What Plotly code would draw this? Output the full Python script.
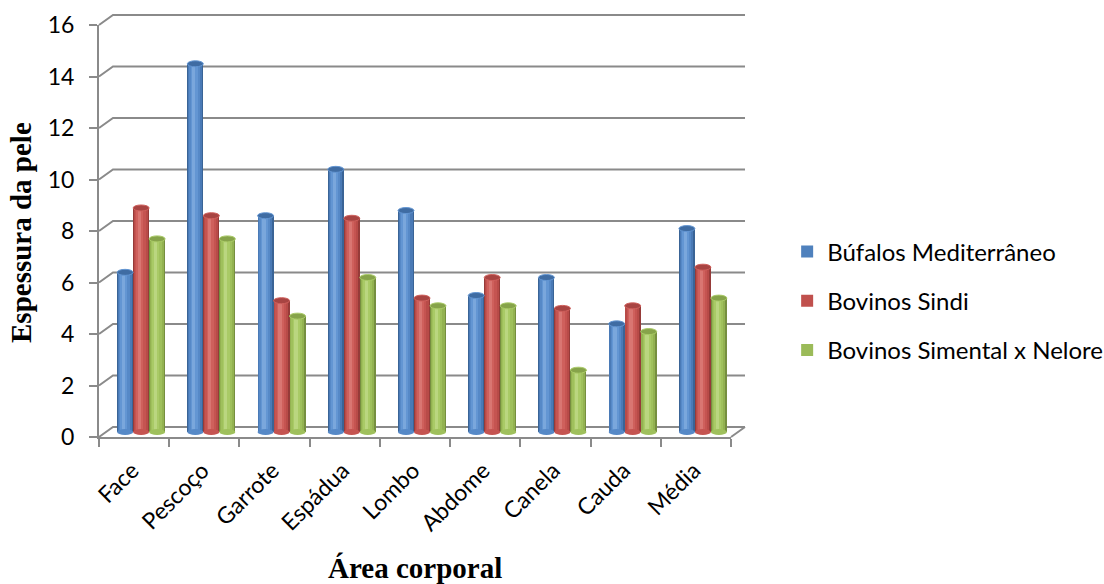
import plotly.graph_objects as go

# --- data -------------------------------------------------------------
categorias = ["Face", "Pescoço", "Garrote", "Espádua", "Lombo",
              "Abdome", "Canela", "Cauda", "Média"]
bufalos_mediterraneo = [6.2, 14.3, 8.4, 10.2, 8.6, 5.3, 6.0, 4.2, 7.9]
bovinos_sindi = [8.7, 8.4, 5.1, 8.3, 5.2, 6.0, 4.8, 4.9, 6.4]
bovinos_simental_nelore = [7.5, 7.5, 4.5, 6.0, 4.9, 4.9, 2.4, 3.9, 5.2]
series_nomes = ["Búfalos Mediterrâneo", "Bovinos Sindi", "Bovinos Simental x Nelore"]
y_ticks = [0, 2, 4, 6, 8, 10, 12, 14, 16]

# --- layout geometry (pixels) -----------------------------------------
W, H = 1104, 584
DX, DY = 7, 5            # half depth of the pseudo-3D box
MID = dict(x0=106, x1=738, yb=432, yt=20)   # plane where the columns stand
PLOT_W = MID["x1"] - MID["x0"]
PLOT_H = MID["yb"] - MID["yt"]
PAD = 12                 # room around the column plane so the box edges are not clipped
Y_MAX = 16
N = len(categorias)


def xdom(a, b):
    return [a / W, b / W]


def ydom(bottom, top):
    return [(H - bottom) / H, (H - top) / H]


x_per_px = N / PLOT_W
y_per_px = Y_MAX / PLOT_H

# shading layers for the cylinders: (width fraction, centre shift) + colours
palettes = [
    ["#3A6496", "#4A7AB6", "#5689C7", "#6396D3", "#7AA7DC"],
    ["#963B39", "#B84B48", "#C55451", "#CF605C", "#D97672"],
    ["#768F40", "#93B251", "#9FC05C", "#A9CA66", "#BAD680"],
]
legend_colors = ["#4F81BD", "#C0504D", "#9BBB59"]
tops = ["#3F6CA3", "#A84442", "#86A34A"]
layers = [(1.00, 0.00), (0.86, -0.02), (0.66, -0.05), (0.44, -0.08), (0.20, -0.10)]

BAR_W = 16 * x_per_px

fig = go.Figure()

valores = [bufalos_mediterraneo, bovinos_sindi, bovinos_simental_nelore]
for i, (nome, vals, pal) in enumerate(zip(series_nomes, valores, palettes)):
    centre = (i - 1) * BAR_W
    for j, (frac, shift) in enumerate(layers):
        fig.add_trace(go.Bar(
            x=list(range(N)), y=vals,
            width=frac * BAR_W,
            offset=centre + (shift - frac / 2) * BAR_W,
            marker=dict(color=pal[j], line_width=0),
            name=nome, legendgroup=nome, showlegend=False,
            hoverinfo="skip",
        ))
    # legend entry in the series' main colour
    fig.add_trace(go.Bar(x=[None], y=[None], name=nome, legendgroup=nome,
                         marker=dict(color=legend_colors[i], line_width=0),
                         showlegend=True, hoverinfo="skip"))

# front edge of the box: value labels and category axis
fig.add_trace(go.Scatter(x=categorias, y=bufalos_mediterraneo, mode="none",
                         xaxis="x2", yaxis="y2", showlegend=False, hoverinfo="skip"))

GRID = "#8A8A8A"
shapes = []
# back-wall gridlines with the diagonal edge to the front axis
for v in y_ticks:
    shapes.append(dict(type="path", layer="below",
                       xref="x", xsizemode="pixel", xanchor=-0.5,
                       yref="y", ysizemode="pixel", yanchor=v,
                       path=f"M {-DX},{-DY} L {DX},{DY} L {PLOT_W + DX},{DY}",
                       line=dict(color=GRID, width=2)))
# right edge of the floor
shapes.append(dict(type="line", layer="below",
                   xref="x", xsizemode="pixel", xanchor=N - 0.5, x0=-DX, x1=DX,
                   yref="y", ysizemode="pixel", yanchor=0, y0=-DY, y1=DY,
                   line=dict(color=GRID, width=2)))

# rounded bottoms and tops of the cylinders
for i, (vals, pal, topc) in enumerate(zip(valores, palettes, tops)):
    centre = (i - 1) * BAR_W
    for k, v in enumerate(vals):
        shapes.append(dict(type="circle", layer="above",
                           xref="x", xsizemode="pixel", xanchor=k + centre, x0=-8, x1=8,
                           yref="y", ysizemode="pixel", yanchor=0, y0=-3, y1=3,
                           fillcolor=pal[2], line_width=0))
        shapes.append(dict(type="circle", layer="above",
                           xref="x", xsizemode="pixel", xanchor=k + centre, x0=-8, x1=8,
                           yref="y", ysizemode="pixel", yanchor=v, y0=-3, y1=3,
                           fillcolor=topc, line=dict(color=pal[3], width=1)))

TICK_FONT = dict(family="Lato, Open Sans, sans-serif", size=23, color="#000000")
LEGEND_FONT = dict(family="Lato, Open Sans, sans-serif", size=24, color="#000000")
TITLE_FONT = dict(family="Liberation Serif, Times New Roman, serif", size=29, color="#000000")

xr = [-0.5, N - 0.5]
yr = [0, Y_MAX]
fig.update_layout(
    width=W, height=H,
    margin=dict(l=0, r=0, t=0, b=0, autoexpand=False),
    paper_bgcolor="white", plot_bgcolor="rgba(0,0,0,0)",
    barmode="overlay", bargap=0,
    showlegend=True,
    # column plane, padded so the box drawn around it stays inside the clip area
    xaxis=dict(domain=xdom(MID["x0"] - PAD, MID["x1"] + PAD),
               range=[xr[0] - PAD * x_per_px, xr[1] + PAD * x_per_px],
               visible=False, fixedrange=True, automargin=False),
    yaxis=dict(domain=ydom(MID["yb"] + PAD, MID["yt"] - PAD),
               range=[yr[0] - PAD * y_per_px, yr[1] + PAD * y_per_px],
               visible=False, fixedrange=True, automargin=False),
    xaxis2=dict(domain=xdom(MID["x0"] - DX, MID["x1"] - DX), range=xr, anchor="y2",
                type="category", categoryarray=categorias,
                showline=True, linecolor=GRID, linewidth=2, automargin=False,
                ticks="outside", tickson="boundaries", ticklen=8, tickwidth=2, tickcolor=GRID,
                tickangle=-45, tickfont=TICK_FONT, ticklabelshift=-2, ticklabelstandoff=9,
                showgrid=False, zeroline=False, fixedrange=True),
    yaxis2=dict(domain=ydom(MID["yb"] + DY, MID["yt"] + DY), range=yr, anchor="x2",
                tickvals=y_ticks, automargin=False,
                showline=True, linecolor=GRID, linewidth=2,
                ticks="outside", ticklen=8, tickwidth=2, tickcolor=GRID,
                tickfont=TICK_FONT, ticklabelstandoff=10,
                showgrid=False, zeroline=False, fixedrange=True),
    legend=dict(x=0.713, y=0.607, xanchor="left", yanchor="top",
                font=LEGEND_FONT, tracegroupgap=15, bgcolor="rgba(0,0,0,0)"),
    shapes=shapes,
    annotations=[
        dict(text="<b>Área corporal</b>", xref="paper", yref="paper",
             x=415 / W, y=1 - 568 / H, xanchor="center", yanchor="middle",
             showarrow=False, font=TITLE_FONT),
        dict(text="<b>Espessura da pele</b>", xref="paper", yref="paper",
             x=21 / W, y=1 - 233 / H, xanchor="center", yanchor="middle",
             showarrow=False, textangle=-90, font=TITLE_FONT),
    ],
)

fig.write_html("out.html")
